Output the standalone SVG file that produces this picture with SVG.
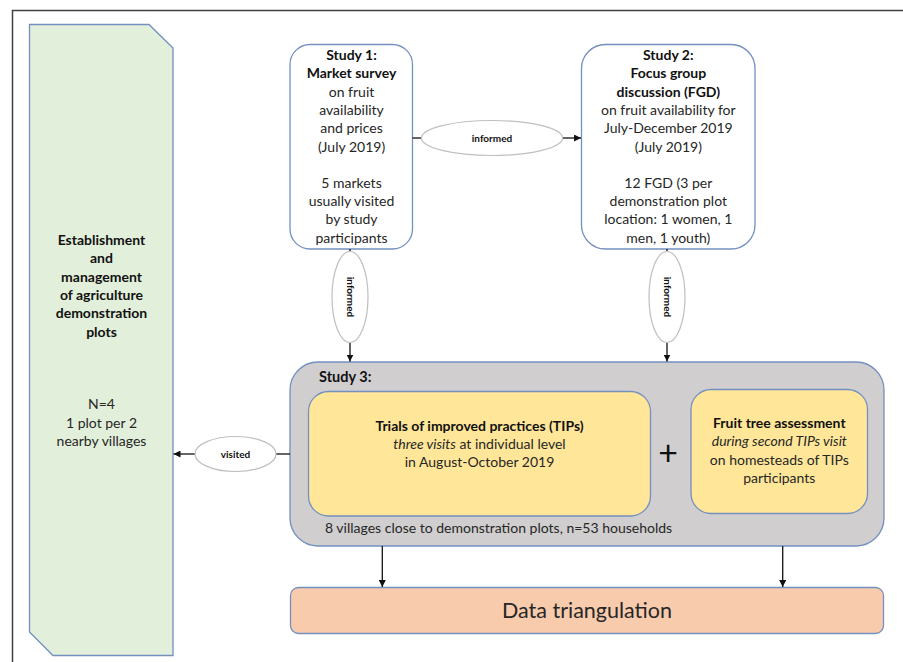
<svg xmlns="http://www.w3.org/2000/svg" width="903" height="662" viewBox="0 0 903 662">
<defs>
<style>
text{font-family:Lato,"Liberation Sans",sans-serif;fill:#262626;text-anchor:middle}
.t{font-size:14px}
.b{font-weight:bold;fill:#111}
.i{font-style:italic}
.lbl{font-size:10px;font-weight:bold;fill:#111}
.box{stroke:#7390c0;stroke-width:1.3}
.ell{fill:#fff;stroke:#bfbfbf;stroke-width:1.2}
.con{stroke:#111;stroke-width:1.3;fill:none}
</style>
<marker id="ah" viewBox="0 0 10 10" refX="10" refY="5" markerWidth="7" markerHeight="7" orient="auto" markerUnits="userSpaceOnUse">
<path d="M0,0 L10,5 L0,10 z" fill="#111"/>
</marker>
</defs>
<rect width="903" height="662" fill="#fff"/>
<path d="M12.5,662 V10.5 H903" fill="none" stroke="#404040" stroke-width="1.5"/>

<g id="demo-plots">
<path class="box" d="M29.5,24.5 H149 L173,48 V655.5 H53 L29.5,632 Z" fill="#E2EFDA"/>
<text class="t b"><tspan x="101.5" y="245">Establishment</tspan><tspan x="101.5" y="263.3">and</tspan><tspan x="101.5" y="281.7">management</tspan><tspan x="101.5" y="300">of agriculture</tspan><tspan x="101.5" y="318.3">demonstration</tspan><tspan x="101.5" y="336.7">plots</tspan></text>
<text class="t"><tspan x="101.5" y="409.3">N=4</tspan><tspan x="101.5" y="427.7">1 plot per 2</tspan><tspan x="101.5" y="446">nearby villages</tspan></text>
</g>

<g id="study1">
<rect class="box" x="290" y="44.5" width="122.5" height="204.5" rx="20" fill="#fff"/>
<text class="t"><tspan class="b" x="351.5" y="60">Study 1:</tspan><tspan class="b" x="351.5" y="78.3">Market survey</tspan><tspan x="351.5" y="96.5">on fruit</tspan><tspan x="351.5" y="115">availability</tspan><tspan x="351.5" y="133.3">and prices</tspan><tspan x="351.5" y="151.7">(July 2019)</tspan><tspan x="351.5" y="187.5">5 markets</tspan><tspan x="351.5" y="206">usually visited</tspan><tspan x="351.5" y="224.3">by study</tspan><tspan x="351.5" y="242.7">participants</tspan></text>
</g>

<g id="study2">
<rect class="box" x="581.5" y="44.5" width="173.5" height="204.5" rx="24" fill="#fff"/>
<text class="t"><tspan class="b" x="668.3" y="60">Study 2:</tspan><tspan class="b" x="668.3" y="78.3">Focus group</tspan><tspan class="b" x="668.3" y="96.5">discussion (FGD)</tspan><tspan x="668.3" y="115">on fruit availability for</tspan><tspan x="668.3" y="133.3">July-December 2019</tspan><tspan x="668.3" y="151.7">(July 2019)</tspan><tspan x="668.3" y="187.5">12 FGD (3 per</tspan><tspan x="668.3" y="206">demonstration  plot</tspan><tspan x="668.3" y="224.3">location: 1 women, 1</tspan><tspan x="668.3" y="242.7">men, 1 youth)</tspan></text>
</g>

<g id="study3">
<rect class="box" x="290" y="362" width="594" height="184" rx="28" fill="#D0CECE"/>
<text class="b" x="319" y="382" style="font-size:14.5px;text-anchor:start">Study 3:</text>
<text class="t" x="325" y="533" style="text-anchor:start">8 villages close to demonstration plots, n=53 households</text>
<text x="668" y="465" style="font-size:34px;fill:#111">+</text>
</g>

<g id="tips">
<rect class="box" x="308.5" y="391.5" width="342" height="124.5" rx="20" fill="#FFE699"/>
<text class="t"><tspan class="b" x="479.5" y="431">Trials of improved practices (TIPs)</tspan><tspan x="479.5" y="448.5"><tspan class="i">three visits</tspan> at individual level</tspan><tspan x="479.5" y="467">in August-October 2019</tspan></text>
</g>

<g id="fruit-tree">
<rect class="box" x="691" y="389.5" width="176.5" height="124" rx="20" fill="#FFE699"/>
<text class="t"><tspan class="b" x="779.3" y="428">Fruit tree assessment</tspan><tspan class="i" x="779.3" y="446.3">during second TIPs visit</tspan><tspan x="779.3" y="464.5">on homesteads of TIPs</tspan><tspan x="779.3" y="482.8">participants</tspan></text>
</g>

<g id="triangulation">
<rect class="box" x="290.5" y="587.5" width="593" height="46" rx="8" fill="#F8CBAD"/>
<text x="587" y="618" style="font-size:21.5px">Data triangulation</text>
</g>

<g id="connectors">
<line class="con" x1="412.5" y1="138" x2="421.5" y2="138"/>
<line class="con" x1="562.5" y1="138" x2="581" y2="138" marker-end="url(#ah)"/>
<line class="con" x1="350" y1="249" x2="350" y2="251.5"/>
<line class="con" x1="350" y1="342.5" x2="350" y2="361.5" marker-end="url(#ah)"/>
<line class="con" x1="667" y1="249" x2="667" y2="251.5"/>
<line class="con" x1="667" y1="342.5" x2="667" y2="361.5" marker-end="url(#ah)"/>
<line class="con" x1="290" y1="454" x2="276" y2="454"/>
<line class="con" x1="195" y1="454" x2="173.5" y2="454" marker-end="url(#ah)"/>
<line class="con" x1="382.3" y1="546" x2="382.3" y2="587" marker-end="url(#ah)"/>
<line class="con" x1="782.7" y1="546" x2="782.7" y2="587" marker-end="url(#ah)"/>
<g id="label-informed-h">
<ellipse class="ell" cx="492" cy="138" rx="70.5" ry="17.5"/>
<text class="lbl" x="492" y="141.5">informed</text>
</g>
<g id="label-informed-v1">
<ellipse class="ell" cx="350" cy="297" rx="18" ry="45.5"/>
<text class="lbl" transform="translate(346.5,297) rotate(90)" x="0" y="0">informed</text>
</g>
<g id="label-informed-v2">
<ellipse class="ell" cx="667" cy="297" rx="18" ry="45.5"/>
<text class="lbl" transform="translate(663.5,297) rotate(90)" x="0" y="0">informed</text>
</g>
<g id="label-visited">
<ellipse class="ell" cx="235.5" cy="454" rx="40.5" ry="17.5"/>
<text class="lbl" x="235.5" y="457.5">visited</text>
</g>
</g>
</svg>
